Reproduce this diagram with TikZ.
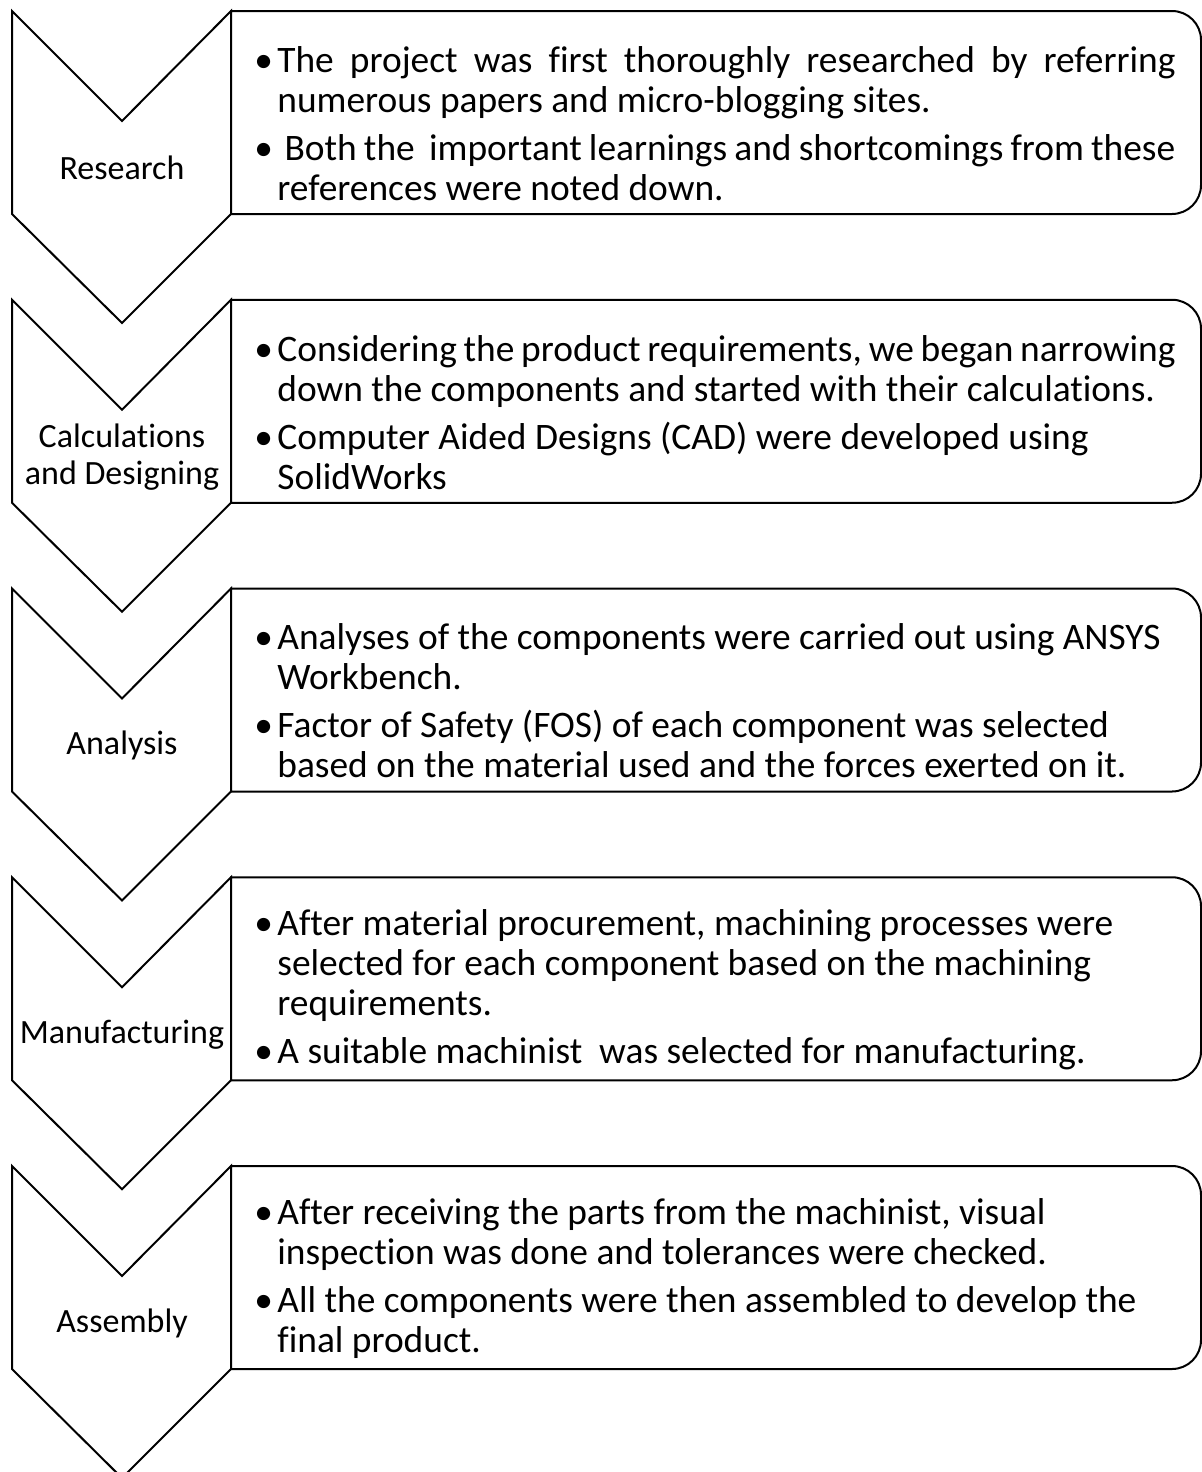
\documentclass[tikz,border=0pt]{standalone}
\usepackage{fontspec}
\setmainfont{Carlito}[RawFeature={-liga;-clig;-calt}]
\newcommand\bul[1]{\par\noindent\hangindent=11.5pt\relax\hangafter=1\relax\hbox to 11.5pt{\textbullet\hss}#1}
\newcommand\txtres{%
  \bul{The project was first thoroughly researched by referring\linebreak numerous papers and micro-blogging sites.}%
  \bul{\ Both the\ \ important learnings and shortcomings from these\newline references were noted down.}\par}
\newcommand\txtcal{%
  \bul{Considering the product requirements, we began narrowing\newline down the components and started with their calculations.}%
  \bul{Computer Aided Designs (CAD) were developed using\newline SolidWorks}\par}
\newcommand\txtana{%
  \bul{Analyses of the components were carried out using ANSYS\newline Workbench.}%
  \bul{Factor of Safety (FOS) of each component was selected\newline based on the material used and the forces exerted on it.}\par}
\newcommand\txtman{%
  \bul{After material procurement, machining processes were\newline selected for each component based on the machining\newline requirements.}%
  \bul{A suitable machinist\ \ was selected for manufacturing.}\par}
\newcommand\txtasm{%
  \bul{After receiving the parts from the machinist, visual\newline inspection was done and tolerances were checked.}%
  \bul{All the components were then assembled to develop the\newline final product.}\par}
\tikzset{
  stage/.style={draw=black,fill=white,line width=1pt,line join=miter},
  steptext/.style={anchor=west,inner sep=0pt,text width=460.5pt,align=justify,
    font=\fontsize{18.7}{20}\selectfont\setlength{\parskip}{4pt}},
  steplabel/.style={align=center,inner sep=0pt,font=\fontsize{17}{18.5}\selectfont}
}
\begin{document}
\begin{tikzpicture}[x=0.5pt,y=-0.5pt]
    \useasboundingbox (0,0) rectangle (1202,1472);
    \foreach \i/\name/\body in {0/Research/\txtres,1/{Calculations\\and Designing}/\txtcal,
        2/Analysis/\txtana,3/Manufacturing/\txtman,4/Assembly/\txtasm} {
        \pgfmathsetmacro{\ytop}{11+288.75*\i}
        % chevron and rounded box
        \draw[stage] (12,\ytop) -- ++(110,110) -- ++(109,-110) -- ++(0,203) -- ++(-109,109) -- ++(-110,-109) -- cycle;
        \draw[stage] (231,\ytop) -- (1172,\ytop) arc[start angle=270,end angle=360,radius=29]
            -- (1201,\ytop+174) arc[start angle=0,end angle=90,radius=29] -- (231,\ytop+203) -- cycle;
        \node[steplabel] (lbl\i) at (122,\ytop+157) {\name};
        \node[steptext] (txt\i) at (254,\ytop+101.5) {\body};
    }
\end{tikzpicture}
\end{document}
